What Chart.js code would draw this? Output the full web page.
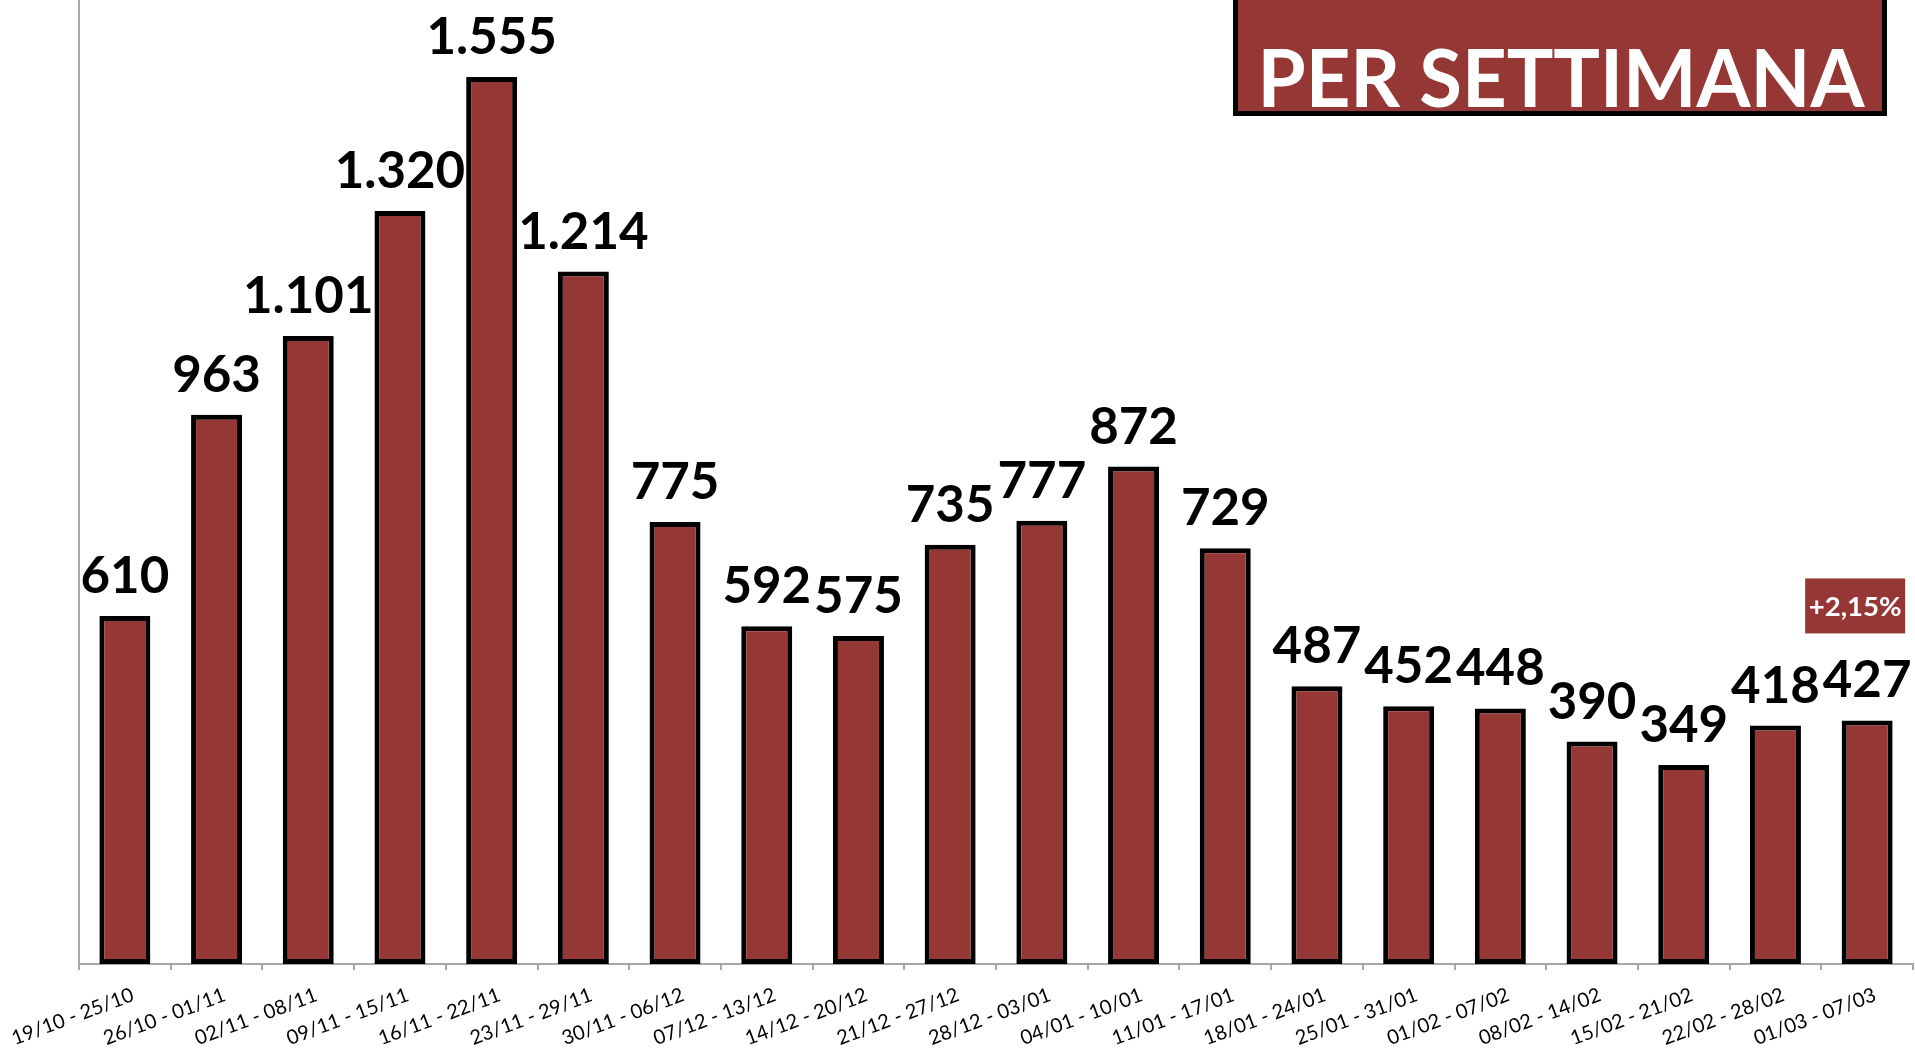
<!DOCTYPE html>
<html><head><meta charset="utf-8">
<script src="https://cdn.jsdelivr.net/npm/chart.js@4/dist/chart.umd.min.js"></script>
<style>html,body{margin:0;padding:0;background:#fff;overflow:hidden}#wrap{width:1915px;height:1049px;position:relative}</style>
</head><body><div id="wrap"><canvas id="c" width="1915" height="1049"></canvas></div>
<script>
const categories = ['19/10 - 25/10','26/10 - 01/11','02/11 - 08/11','09/11 - 15/11','16/11 - 22/11','23/11 - 29/11','30/11 - 06/12','07/12 - 13/12','14/12 - 20/12','21/12 - 27/12','28/12 - 03/01','04/01 - 10/01','11/01 - 17/01','18/01 - 24/01','25/01 - 31/01','01/02 - 07/02','08/02 - 14/02','15/02 - 21/02','22/02 - 28/02','01/03 - 07/03'];
const weeklyValues = [610, 963, 1101, 1320, 1555, 1214, 775, 592, 575, 735, 777, 872, 729, 487, 452, 448, 390, 349, 418, 427];
const titleText = 'PER SETTIMANA';
const yMax = 1690;

const BAR = '#953735';
const AXIS = '#A6A6A6';

function fmtIt(v){
  const s = String(Math.round(v));
  return s.replace(/\B(?=(\d{3})+(?!\d))/g, '.');
}
function pctChange(){
  const n = weeklyValues.length;
  const p = (weeklyValues[n-1] - weeklyValues[n-2]) / weeklyValues[n-2] * 100;
  return (p >= 0 ? '+' : '') + p.toFixed(2).replace('.', ',') + '%';
}
function fitText(ctx, text, cx, baseline, targetW){
  const w = ctx.measureText(text).width;
  const sx = targetW / w;
  ctx.save();
  ctx.translate(cx, baseline);
  ctx.scale(sx, 1);
  ctx.textAlign = 'center';
  ctx.textBaseline = 'alphabetic';
  ctx.fillText(text, 0, 0);
  ctx.restore();
}

const labelsPlugin = {
  id: 'extras',
  afterDatasetsDraw(chart){
    const ctx = chart.ctx;
    const meta = chart.getDatasetMeta(0);
    ctx.save();
    ctx.fillStyle = '#000';
    ctx.font = 'bold 51px Lato';
    ctx.textAlign = 'center';
    ctx.textBaseline = 'alphabetic';
    meta.data.forEach((el, i) => {
      ctx.fillText(fmtIt(weeklyValues[i]), el.x, el.y - 23);
    });
    // change badge over last bar
    const last = meta.data[meta.data.length - 1];
    const bx = last.x - 62, by = last.y - 142;
    ctx.fillStyle = BAR;
    ctx.fillRect(bx, by, 100, 55);
    ctx.fillStyle = '#fff';
    ctx.font = 'bold 26px Lato';
    fitText(ctx, pctChange(), bx + 50, by + 38, 93);
    // title box
    ctx.fillStyle = BAR;
    ctx.fillRect(1235, -10, 650, 124);
    ctx.strokeStyle = '#000';
    ctx.lineWidth = 5;
    ctx.strokeRect(1235.5, -10, 649, 123.5);
    ctx.fillStyle = '#fff';
    ctx.font = 'bold 80px Lato';
    fitText(ctx, titleText, 1561, 107, 607);
    ctx.restore();
  }
};

new Chart(document.getElementById('c'), {
  type: 'bar',
  data: {
    labels: categories,
    datasets: [{
      data: weeklyValues,
      backgroundColor: BAR,
      borderColor: '#000',
      borderWidth: 5,
      borderSkipped: false,
      barPercentage: 0.556,
      categoryPercentage: 1.0
    }]
  },
  options: {
    responsive: false,
    animation: false,
    devicePixelRatio: 1,
    layout: { padding: { top: 0, right: 2, left: 0, bottom: 0 } },
    plugins: { legend: { display: false }, tooltip: { enabled: false }, title: { display: false } },
    scales: {
      x: {
        offset: true,
        grid: { display: true, drawOnChartArea: false, drawTicks: true, tickLength: 6, color: AXIS, lineWidth: 2, offset: true },
        border: { display: true, color: AXIS, width: 2 },
        ticks: { color: '#000', font: { family: 'Lato', size: 20 }, minRotation: 20.5, maxRotation: 20.5, autoSkip: false, padding: 13, labelOffset: 8 },
        afterFit(scale){ scale.height = 85; scale.paddingLeft = 0; scale.paddingRight = 0; }
      },
      y: {
        min: 0, max: yMax,
        grid: { display: false },
        border: { display: true, color: AXIS, width: 2 },
        ticks: { display: false },
        afterFit(scale){ scale.width = 79; }
      }
    }
  },
  plugins: [labelsPlugin]
});
</script>
</body></html>
